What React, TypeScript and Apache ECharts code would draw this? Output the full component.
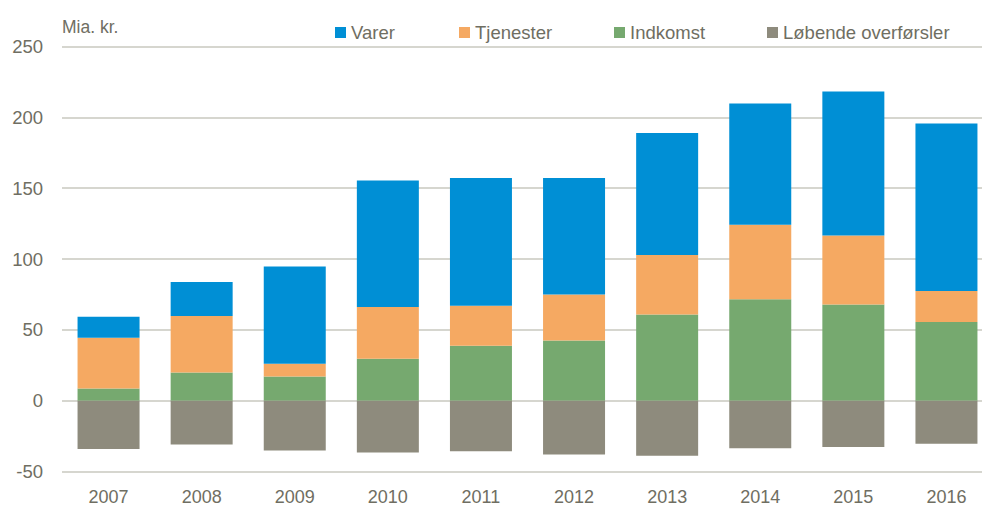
import React, { useEffect, useRef } from "react";
import * as echarts from "echarts";

const years = ["2007", "2008", "2009", "2010", "2011", "2012", "2013", "2014", "2015", "2016"];
const indkomst = [8.7, 20.0, 17.2, 29.7, 38.8, 42.6, 61.0, 71.6, 68.0, 55.6];
const tjenester = [35.8, 39.8, 8.9, 36.5, 28.3, 32.5, 41.9, 52.7, 48.7, 21.9];
const varer = [14.8, 24.0, 68.7, 89.2, 90.2, 82.2, 86.1, 85.4, 101.5, 118.1];
const loebende = [-33.9, -30.8, -35.1, -36.5, -35.5, -37.9, -38.8, -33.4, -32.5, -30.2];
const legendOrder = ["Varer", "Tjenester", "Indkomst", "Løbende overførsler"];
const legendLeft = [330, 454, 609, 762];

const textColor = "#6f6e62";
const font = "'Liberation Sans', Arial, sans-serif";

export default function App() {
  const ref = useRef<HTMLDivElement>(null);
  useEffect(() => {
    if (!ref.current) return;
    const chart = echarts.init(ref.current, null, { renderer: "svg" });
    chart.setOption({
      animation: false,
      textStyle: { fontFamily: font },
      grid: { left: 62, width: 931, top: 46.5, bottom: 35.3, containLabel: false, outerBoundsMode: "none" },
      legend: legendOrder.map((name, i) => ({
        data: [name],
        left: legendLeft[i],
        top: 18,
        itemWidth: 11,
        itemHeight: 11,
        itemGap: 5,
        icon: "rect",
        textStyle: { color: textColor, fontSize: 18.5, fontFamily: font },
      })),
      graphic: [
        {
          type: "text",
          left: 62,
          top: 18,
          style: { text: "Mia. kr.", fill: textColor, font: `17.5px ${font}` },
        },
      ],
      xAxis: {
        type: "category",
        data: years,
        axisLine: { show: false },
        axisTick: { show: false },
        axisLabel: { color: textColor, fontSize: 18, margin: 16 },
      },
      yAxis: {
        type: "value",
        min: -50,
        max: 250,
        interval: 50,
        axisLine: { show: false },
        axisTick: { show: false },
        axisLabel: { color: textColor, fontSize: 18.5, margin: 19 },
        splitLine: { lineStyle: { color: "#c9c9bf", width: 1.5 } },
      },
      series: [
        { name: "Indkomst", type: "bar", stack: "t", data: indkomst, barWidth: 62, itemStyle: { color: "#76a96f" } },
        { name: "Tjenester", type: "bar", stack: "t", data: tjenester, barWidth: 62, itemStyle: { color: "#f5a962" } },
        { name: "Varer", type: "bar", stack: "t", data: varer, barWidth: 62, itemStyle: { color: "#008fd5" } },
        { name: "Løbende overførsler", type: "bar", stack: "t", data: loebende, barWidth: 62, itemStyle: { color: "#8e8b7d" } },
      ],
    });
    return () => chart.dispose();
  }, []);
  return <div ref={ref} style={{ width: 982, height: 507, position: "absolute", left: 0, top: 0 }} />;
}
